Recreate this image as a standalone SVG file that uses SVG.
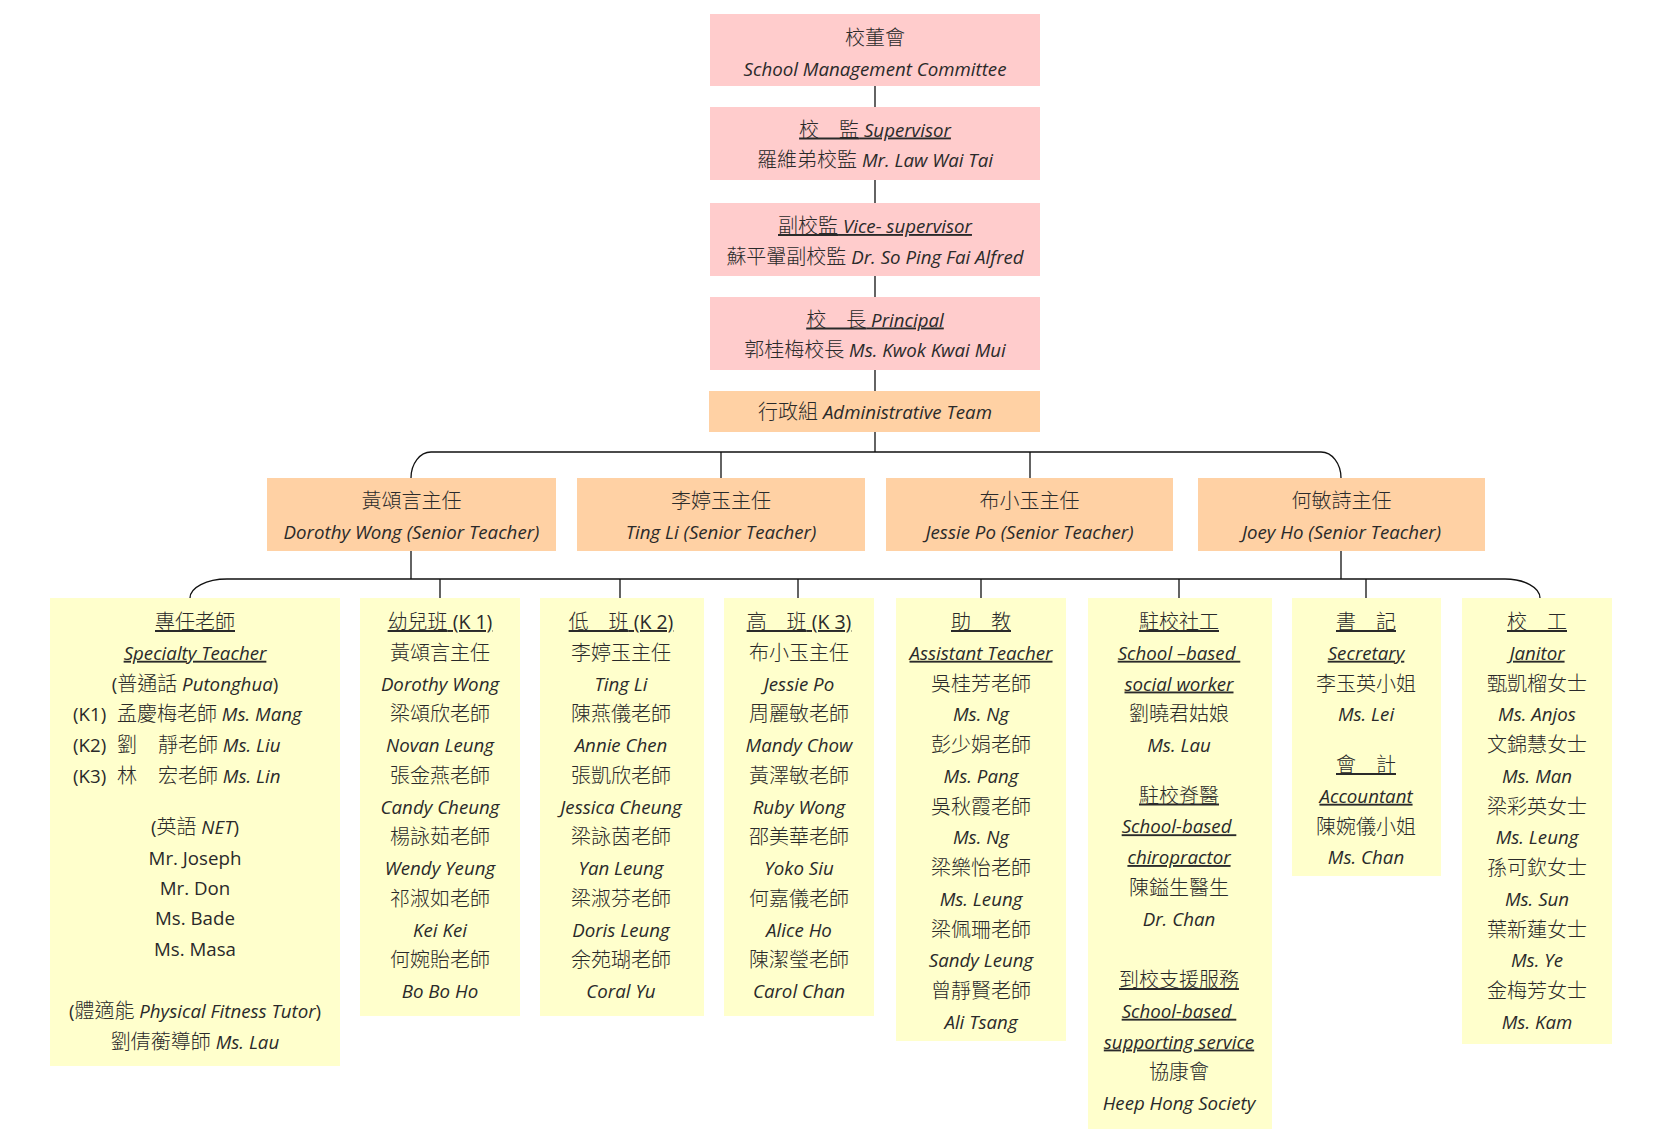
<svg xmlns="http://www.w3.org/2000/svg" width="1657" height="1137" viewBox="0 0 1657 1137">
<style>
text{font-family:"Noto Sans CJK TC","Noto Sans CJK SC",sans-serif;font-size:20px;font-weight:300;fill:#2a2a2a;text-anchor:middle}
.en{font-family:"Open Sans","Noto Sans",sans-serif;font-style:italic;font-weight:400;font-size:18.7px}
.up{font-family:"Open Sans","Noto Sans",sans-serif;font-style:normal;font-weight:400;font-size:18.7px}
.hk{font-size:19.5px}
.u{text-decoration:underline}
.l{text-anchor:start}
.pink{fill:#FFCCCC}
.org{fill:#FFD1A4}
.yel{fill:#FFFFCC}
.conn path{fill:none;stroke:#111;stroke-width:1.3}
</style>
<rect width="1657" height="1137" fill="#fff"/>
<g class="conn" id="connectors">
<path d="M875 86V107M875 180V203M875 276V297M875 370V391M875 432V452"/>
<path d="M411 478A20 26 0 0 1 431 452H1321A20 26 0 0 1 1341 478"/>
<path d="M721 452V478M1030 452V478"/>
<path d="M411 551V579M1341 551V579"/>
<path d="M190 598A37 19 0 0 1 227 579H1505A35 19 0 0 1 1540 598"/>
<path d="M440 579V598M620 579V598M798 579V598M981 579V598M1179 579V598M1366 579V598"/>
</g>
<g id="smc"><rect class="pink" x="710" y="14" width="330" height="72"/>
<text x="875" y="44.5">校董會</text>
<text x="875" y="76"><tspan class="en">School Management Committee</tspan></text></g>
<g id="supervisor"><rect class="pink" x="710" y="107" width="330" height="73"/>
<text x="875" y="136.5" class="u">校　監<tspan class="en"> Supervisor</tspan></text>
<text x="875" y="167">羅維弟校監<tspan class="en"> Mr. Law Wai Tai</tspan></text></g>
<g id="vice"><rect class="pink" x="710" y="203" width="330" height="73"/>
<text x="875" y="233" class="u">副校監<tspan class="en"> Vice- supervisor</tspan></text>
<text x="875" y="263.5">蘇平翬副校監<tspan class="en"> Dr. So Ping Fai Alfred</tspan></text></g>
<g id="principal"><rect class="pink" x="710" y="297" width="330" height="73"/>
<text x="875" y="326.5" class="u">校　長<tspan class="en"> Principal</tspan></text>
<text x="875" y="356.5">郭桂梅校長<tspan class="en"> Ms. Kwok Kwai Mui</tspan></text></g>
<g id="admin"><rect class="org" x="709" y="391" width="331" height="41"/>
<text x="875" y="419">行政組<tspan class="en"> Administrative Team</tspan></text></g>
<g id="dorothy"><rect class="org" x="267" y="478" width="289" height="73"/>
<text x="411.5" y="507.5">黃頌言主任</text>
<text x="411.5" y="539"><tspan class="en">Dorothy Wong (Senior Teacher)</tspan></text></g>
<g id="ting"><rect class="org" x="577" y="478" width="288" height="73"/>
<text x="721" y="507.5">李婷玉主任</text>
<text x="721" y="539"><tspan class="en">Ting Li (Senior Teacher)</tspan></text></g>
<g id="jessie"><rect class="org" x="886" y="478" width="287" height="73"/>
<text x="1029.5" y="507.5">布小玉主任</text>
<text x="1029.5" y="539"><tspan class="en">Jessie Po (Senior Teacher)</tspan></text></g>
<g id="joey"><rect class="org" x="1198" y="478" width="287" height="73"/>
<text x="1341.5" y="507.5">何敏詩主任</text>
<text x="1341.5" y="539"><tspan class="en">Joey Ho (Senior Teacher)</tspan></text></g>
<g id="specialty"><rect class="yel" x="50" y="598" width="290" height="468"/>
<text x="195" y="629" class="u">專任老師</text>
<text x="195" y="659.75"><tspan class="en u">Specialty Teacher</tspan></text>
<text x="195" y="690.5"><tspan class="up">(</tspan>普通話<tspan class="en"> Putonghua</tspan><tspan class="up">)</tspan></text>
<text x="73" y="721.25" class="l"><tspan class="up">(K1)</tspan><tspan x="117">孟慶梅老師</tspan><tspan class="en"> Ms. Mang</tspan></text>
<text x="73" y="752" class="l"><tspan class="up">(K2)</tspan><tspan x="117">劉</tspan><tspan x="158">靜老師</tspan><tspan class="en"> Ms. Liu</tspan></text>
<text x="73" y="782.75" class="l"><tspan class="up">(K3)</tspan><tspan x="117">林</tspan><tspan x="158">宏老師</tspan><tspan class="en"> Ms. Lin</tspan></text>
<text x="195" y="834"><tspan class="up">(</tspan>英語<tspan class="en"> NET</tspan><tspan class="up">)</tspan></text>
<text x="195" y="865"><tspan class="up">Mr. Joseph</tspan></text>
<text x="195" y="895"><tspan class="up">Mr. Don</tspan></text>
<text x="195" y="925"><tspan class="up">Ms. Bade</tspan></text>
<text x="195" y="956"><tspan class="up">Ms. Masa</tspan></text>
<text x="195" y="1018"><tspan class="up">(</tspan>體適能<tspan class="en"> Physical Fitness Tutor</tspan><tspan class="up">)</tspan></text>
<text x="195" y="1049">劉倩蘅導師<tspan class="en"> Ms. Lau</tspan></text></g>
<g id="k1"><rect class="yel" x="360" y="598" width="160" height="418"/>
<text x="440" y="629" class="u">幼兒班<tspan class="up hk">  (K 1)</tspan></text>
<text x="440" y="659.75">黃頌言主任</text>
<text x="440" y="690.5"><tspan class="en">Dorothy Wong</tspan></text>
<text x="440" y="721.25">梁頌欣老師</text>
<text x="440" y="752"><tspan class="en">Novan Leung</tspan></text>
<text x="440" y="782.75">張金燕老師</text>
<text x="440" y="813.5"><tspan class="en">Candy Cheung</tspan></text>
<text x="440" y="844.25">楊詠茹老師</text>
<text x="440" y="875"><tspan class="en">Wendy Yeung</tspan></text>
<text x="440" y="905.75">祁淑如老師</text>
<text x="440" y="936.5"><tspan class="en">Kei Kei</tspan></text>
<text x="440" y="967.25">何婉貽老師</text>
<text x="440" y="998"><tspan class="en">Bo Bo Ho</tspan></text></g>
<g id="k2"><rect class="yel" x="540" y="598" width="164" height="418"/>
<text x="621" y="629" class="u">低　班<tspan class="up hk">  (K 2)</tspan></text>
<text x="621" y="659.75">李婷玉主任</text>
<text x="621" y="690.5"><tspan class="en">Ting Li</tspan></text>
<text x="621" y="721.25">陳燕儀老師</text>
<text x="621" y="752"><tspan class="en">Annie Chen</tspan></text>
<text x="621" y="782.75">張凱欣老師</text>
<text x="621" y="813.5"><tspan class="en">Jessica Cheung</tspan></text>
<text x="621" y="844.25">梁詠茵老師</text>
<text x="621" y="875"><tspan class="en">Yan Leung</tspan></text>
<text x="621" y="905.75">梁淑芬老師</text>
<text x="621" y="936.5"><tspan class="en">Doris Leung</tspan></text>
<text x="621" y="967.25">余苑瑚老師</text>
<text x="621" y="998"><tspan class="en">Coral Yu</tspan></text></g>
<g id="k3"><rect class="yel" x="724" y="598" width="150" height="418"/>
<text x="799" y="629" class="u">高　班<tspan class="up hk">  (K 3)</tspan></text>
<text x="799" y="659.75">布小玉主任</text>
<text x="799" y="690.5"><tspan class="en">Jessie Po</tspan></text>
<text x="799" y="721.25">周麗敏老師</text>
<text x="799" y="752"><tspan class="en">Mandy Chow</tspan></text>
<text x="799" y="782.75">黃澤敏老師</text>
<text x="799" y="813.5"><tspan class="en">Ruby Wong</tspan></text>
<text x="799" y="844.25">邵美華老師</text>
<text x="799" y="875"><tspan class="en">Yoko Siu</tspan></text>
<text x="799" y="905.75">何嘉儀老師</text>
<text x="799" y="936.5"><tspan class="en">Alice Ho</tspan></text>
<text x="799" y="967.25">陳潔瑩老師</text>
<text x="799" y="998"><tspan class="en">Carol Chan</tspan></text></g>
<g id="assistant"><rect class="yel" x="896" y="598" width="170" height="443"/>
<text x="981" y="629" class="u">助　教</text>
<text x="981" y="659.75"><tspan class="en u">Assistant Teacher</tspan></text>
<text x="981" y="690.5">吳桂芳老師</text>
<text x="981" y="721.25"><tspan class="en">Ms. Ng</tspan></text>
<text x="981" y="752">彭少娟老師</text>
<text x="981" y="782.75"><tspan class="en">Ms. Pang</tspan></text>
<text x="981" y="813.5">吳秋霞老師</text>
<text x="981" y="844.25"><tspan class="en">Ms. Ng</tspan></text>
<text x="981" y="875">梁樂怡老師</text>
<text x="981" y="905.75"><tspan class="en">Ms. Leung</tspan></text>
<text x="981" y="936.5">梁佩珊老師</text>
<text x="981" y="967.25"><tspan class="en">Sandy Leung</tspan></text>
<text x="981" y="998">曾靜賢老師</text>
<text x="981" y="1028.75"><tspan class="en">Ali Tsang</tspan></text></g>
<g id="social"><rect class="yel" x="1088" y="598" width="184" height="531"/>
<text x="1179" y="629" class="u">駐校社工</text>
<text x="1179" y="659.75"><tspan class="en u">School –based&#160;</tspan></text>
<text x="1179" y="690.5"><tspan class="en u">social worker</tspan></text>
<text x="1179" y="721.25">劉曉君姑娘</text>
<text x="1179" y="752"><tspan class="en">Ms. Lau</tspan></text>
<text x="1179" y="802.5" class="u">駐校脊醫</text>
<text x="1179" y="833.25"><tspan class="en u">School-based&#160;</tspan></text>
<text x="1179" y="864"><tspan class="en u">chiropractor</tspan></text>
<text x="1179" y="894.75">陳鎰生醫生</text>
<text x="1179" y="925.5"><tspan class="en">Dr. Chan</tspan></text>
<text x="1179" y="987" class="u">到校支援服務</text>
<text x="1179" y="1017.75"><tspan class="en u">School-based&#160;</tspan></text>
<text x="1179" y="1048.5"><tspan class="en u">supporting service</tspan></text>
<text x="1179" y="1079.25">協康會</text>
<text x="1179" y="1110"><tspan class="en">Heep Hong Society</tspan></text></g>
<g id="office"><rect class="yel" x="1292" y="598" width="149" height="278"/>
<text x="1366" y="629" class="u">書　記</text>
<text x="1366" y="659.75"><tspan class="en u">Secretary</tspan></text>
<text x="1366" y="690.5">李玉英小姐</text>
<text x="1366" y="721.25"><tspan class="en">Ms. Lei</tspan></text>
<text x="1366" y="772" class="u">會　計</text>
<text x="1366" y="802.75"><tspan class="en u">Accountant</tspan></text>
<text x="1366" y="833.5">陳婉儀小姐</text>
<text x="1366" y="864.25"><tspan class="en">Ms. Chan</tspan></text></g>
<g id="janitor"><rect class="yel" x="1462" y="598" width="150" height="446"/>
<text x="1537" y="629" class="u">校　工</text>
<text x="1537" y="659.75"><tspan class="en u">Janitor</tspan></text>
<text x="1537" y="690.5">甄凱榴女士</text>
<text x="1537" y="721.25"><tspan class="en">Ms. Anjos</tspan></text>
<text x="1537" y="752">文錦慧女士</text>
<text x="1537" y="782.75"><tspan class="en">Ms. Man</tspan></text>
<text x="1537" y="813.5">梁彩英女士</text>
<text x="1537" y="844.25"><tspan class="en">Ms. Leung</tspan></text>
<text x="1537" y="875">孫可欽女士</text>
<text x="1537" y="905.75"><tspan class="en">Ms. Sun</tspan></text>
<text x="1537" y="936.5">葉新蓮女士</text>
<text x="1537" y="967.25"><tspan class="en">Ms. Ye</tspan></text>
<text x="1537" y="998">金梅芳女士</text>
<text x="1537" y="1028.75"><tspan class="en">Ms. Kam</tspan></text></g>
</svg>
